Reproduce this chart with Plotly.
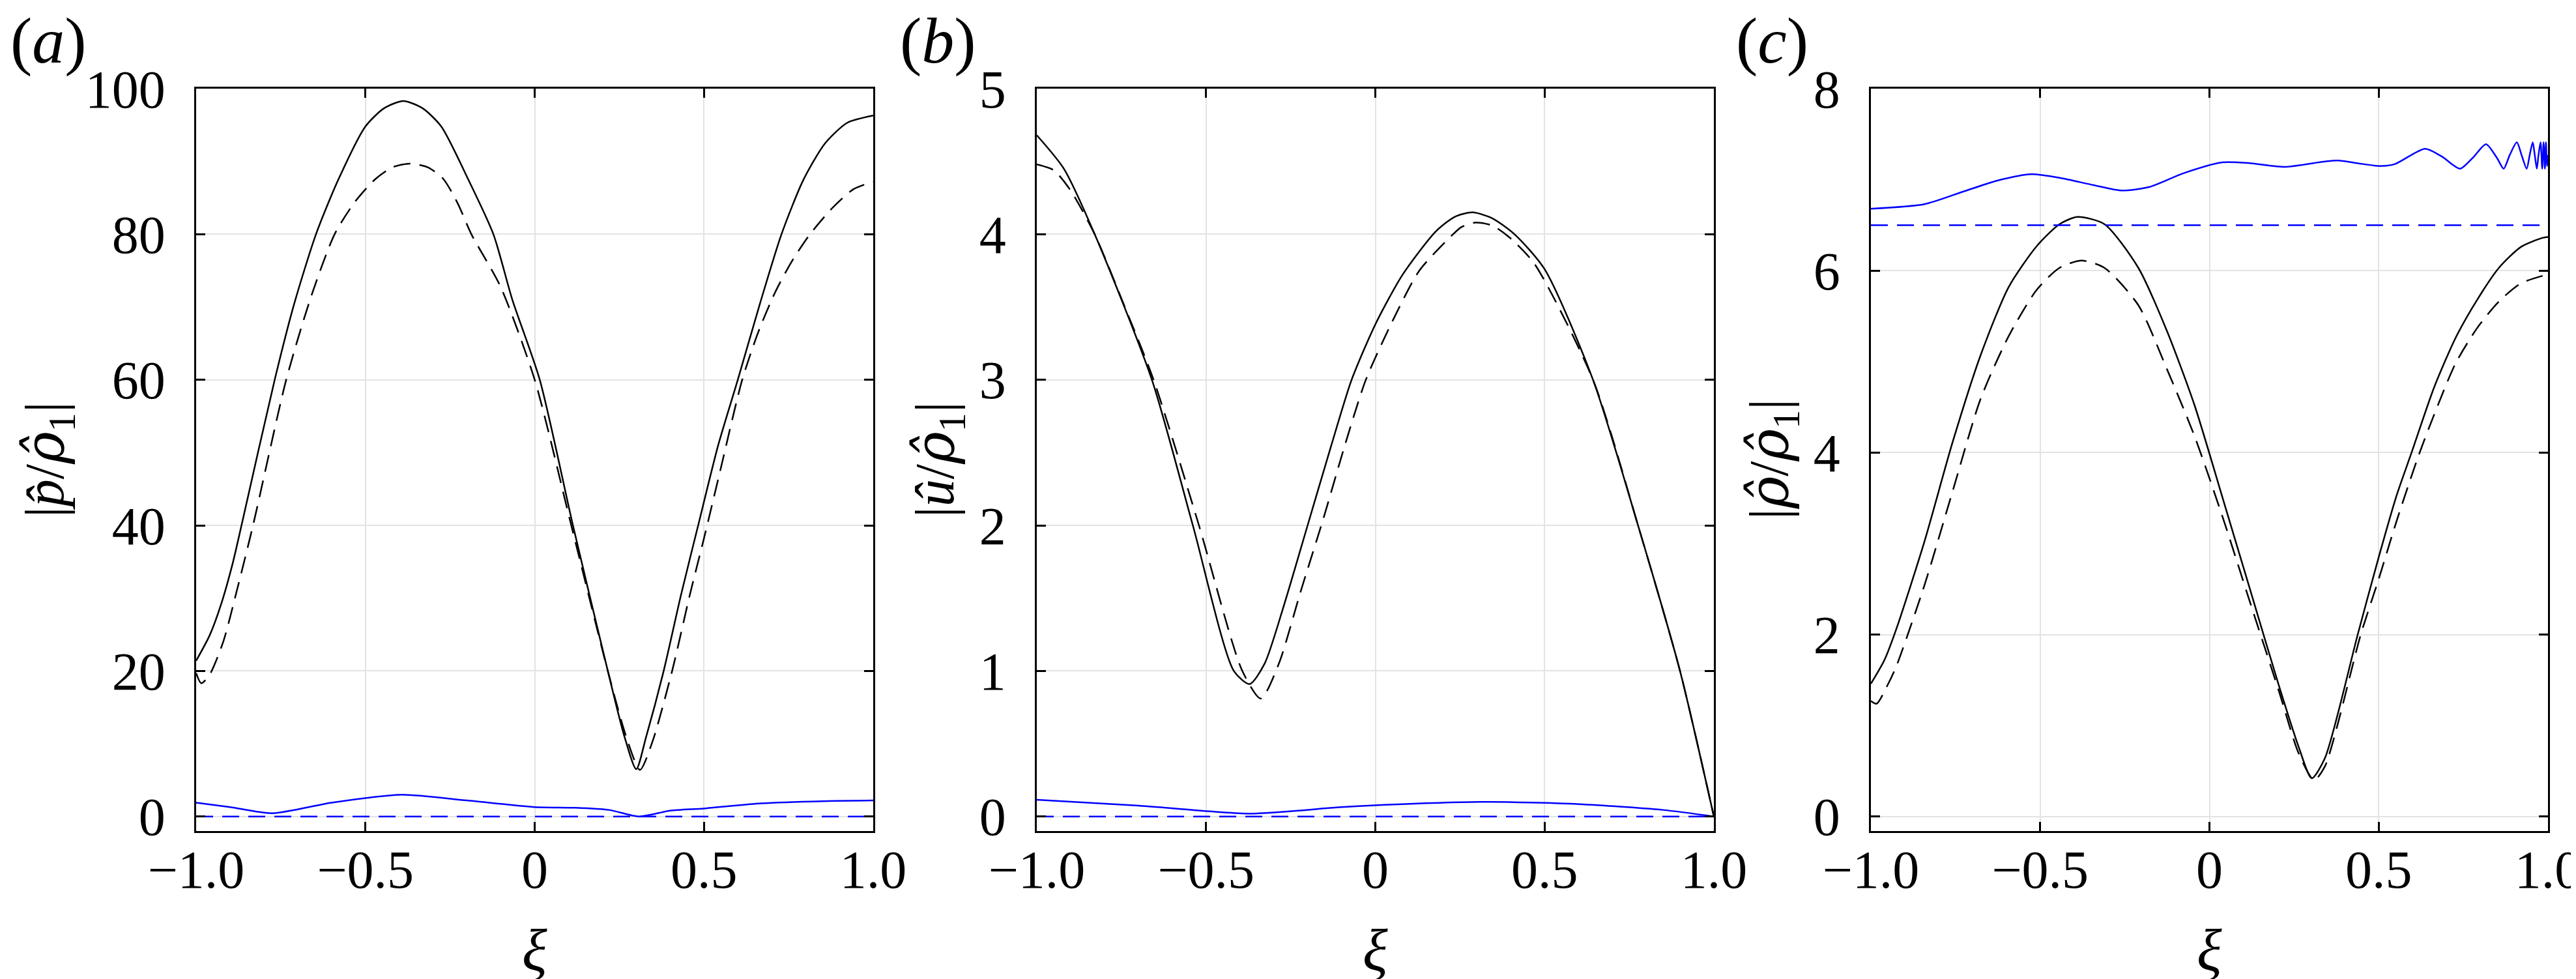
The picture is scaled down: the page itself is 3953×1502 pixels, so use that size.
import plotly.graph_objects as go

W, H = 3953, 1502

# panel (a): |p/rho1|
a_x_solid = [-1.0, -0.96, -0.926, -0.892, -0.866, -0.768, -0.71, -0.646, -0.58, -0.5, -0.445,
             -0.388, -0.331, -0.276, -0.196, -0.122, -0.066, 0.015, 0.113, 0.216, 0.265, 0.300,
             0.329, 0.381, 0.432, 0.484, 0.542, 0.600, 0.665, 0.729, 0.794, 0.858, 0.923, 1.0]
a_y_solid = [21.4, 24.9, 29.2, 34.8, 40.0, 60.0, 70.5, 80.0, 87.5, 94.8, 97.3,
             98.3, 97.3, 94.8, 87.5, 80.0, 71.0, 60.0, 40.0, 20.0, 11.0, 6.5,
             10.9, 20.0, 30.4, 40.2, 51.0, 60.0, 70.4, 80.0, 87.5, 92.5, 95.3, 96.3]
a_x_dash = [-1.0, -0.985, -0.96, -0.92, -0.88, -0.832, -0.734, -0.66, -0.591, -0.53, -0.47,
            -0.42, -0.368, -0.316, -0.27, -0.228, -0.187, -0.101, 0.0, 0.108, 0.216, 0.27,
            0.311, 0.348, 0.406, 0.458, 0.5, 0.548, 0.613, 0.66, 0.71, 0.76, 0.81, 0.877,
            0.942, 1.0]
a_y_dash = [19.7, 18.3, 19.5, 24.0, 31.0, 40.0, 60.0, 71.5, 80.0, 84.5, 87.6,
            89.2, 89.7, 89.2, 87.6, 84.3, 80.0, 72.8, 60.0, 40.0, 20.0, 11.0,
            6.4, 10.3, 20.0, 30.4, 38.2, 47.5, 60.0, 66.5, 72.0, 76.3, 79.8, 83.5,
            86.2, 87.2]
a_x_blue = [-1.0, -0.9, -0.775, -0.6, -0.393, -0.2, 0.0, 0.12, 0.22, 0.308, 0.4, 0.5, 0.67, 0.85, 1.0]
a_y_blue = [1.9, 1.3, 0.45, 1.9, 3.0, 2.2, 1.3, 1.2, 0.9, 0.0, 0.8, 1.1, 1.8, 2.1, 2.2]
a_blue_dash = 0.0

# panel (b): |u/rho1|
b_x_solid = [-1.0, -0.92, -0.829, -0.66, -0.539, -0.418, -0.371, -0.327, -0.27, -0.2, -0.13,
             -0.07, 0.0, 0.08, 0.179, 0.235, 0.287, 0.345, 0.411, 0.5, 0.643, 0.776, 0.9, 1.0]
b_y_solid = [4.68, 4.45, 4.0, 3.0, 2.0, 1.0, 0.91, 1.05, 1.45, 2.0, 2.55,
             3.0, 3.38, 3.72, 4.02, 4.12, 4.15, 4.11, 4.0, 3.76, 3.0, 2.0, 1.0, 0.0]
b_x_dash = [-1.0, -0.95, -0.9, -0.829, -0.74, -0.655, -0.521, -0.393, -0.338, -0.285, -0.22,
            -0.153, -0.09, -0.028, 0.05, 0.13, 0.221, 0.255, 0.295, 0.345, 0.395, 0.469,
            0.643, 0.776, 0.9, 1.0]
b_y_dash = [4.48, 4.44, 4.30, 4.0, 3.5, 3.0, 2.0, 1.0, 0.81, 1.05, 1.55,
            2.05, 2.55, 3.0, 3.4, 3.75, 3.98, 4.05, 4.08, 4.06, 3.98, 3.80,
            3.0, 2.0, 1.0, 0.0]
b_x_blue = [-1.0, -0.7, -0.371, -0.1, 0.0, 0.31, 0.6, 0.85, 1.0]
b_y_blue = [0.115, 0.075, 0.02, 0.065, 0.077, 0.10, 0.085, 0.045, 0.0]
b_blue_dash = 0.0

# panel (c): |rho/rho1|
c_x_solid = [-1.0, -0.96, -0.925, -0.842, -0.759, -0.676, -0.593, -0.51, -0.443, -0.39, -0.31,
             -0.21, -0.127, -0.044, 0.039, 0.122, 0.205, 0.264, 0.302, 0.341, 0.438, 0.5,
             0.553, 0.598, 0.663, 0.727, 0.791, 0.855, 0.920, 0.984, 1.0]
c_y_solid = [1.46, 1.72, 2.06, 3.02, 4.11, 5.07, 5.82, 6.27, 6.51, 6.59, 6.51,
             6.03, 5.35, 4.52, 3.50, 2.47, 1.44, 0.76, 0.42, 0.64, 2.0, 2.85,
             3.53, 4.01, 4.71, 5.26, 5.68, 6.03, 6.26, 6.36, 6.37]
c_x_dash = [-1.0, -0.983, -0.95, -0.925, -0.842, -0.759, -0.676, -0.593, -0.51, -0.443, -0.377,
            -0.31, -0.21, -0.127, -0.044, 0.039, 0.122, 0.205, 0.264, 0.309, 0.341, 0.447,
            0.5, 0.553, 0.618, 0.663, 0.727, 0.791, 0.855, 0.920, 1.0]
c_y_dash = [1.27, 1.24, 1.45, 1.65, 2.54, 3.57, 4.59, 5.28, 5.79, 6.03, 6.11,
            6.03, 5.62, 4.93, 4.18, 3.29, 2.33, 1.38, 0.69, 0.40, 0.55, 2.0,
            2.61, 3.25, 3.97, 4.41, 4.98, 5.37, 5.66, 5.86, 5.96]
c_x_blue = [-1.0, -0.842, -0.726, -0.626, -0.526, -0.443, -0.343, -0.26, -0.177, -0.077, 0.039,
            0.122, 0.222, 0.342, 0.380, 0.438, 0.502, 0.547, 0.637, 0.688, 0.740, 0.778,
            0.817, 0.849, 0.869, 0.887, 0.908, 0.922, 0.937, 0.946, 0.955, 0.961, 0.967,
            0.972, 0.978, 0.983, 0.987, 0.991, 0.994, 0.997, 1.0]
c_y_blue = [6.68, 6.73, 6.87, 6.99, 7.06, 7.02, 6.94, 6.88, 6.92, 7.07, 7.19,
            7.18, 7.14, 7.20, 7.21, 7.18, 7.15, 7.17, 7.34, 7.25, 7.12, 7.24,
            7.39, 7.24, 7.12, 7.27, 7.41, 7.27, 7.12, 7.27, 7.41, 7.27, 7.12,
            7.27, 7.41, 7.12, 7.41, 7.12, 7.41, 7.15, 7.27]
c_blue_dash = 6.50

x_ticks = [-1.0, -0.5, 0.0, 0.5, 1.0]
x_tick_text = ["\u22121.0", "\u22120.5", "0", "0.5", "1.0"]

RHO_HAT = '<span style="font-family:\'DejaVu Serif\'"><i>\u03c1\u0302</i></span>'

panels = [
    dict(name="a", solid=(a_x_solid, a_y_solid), dash=(a_x_dash, a_y_dash),
         blue=(a_x_blue, a_y_blue), bdash=a_blue_dash, yr=[-2, 100], yt=[0, 20, 40, 60, 80, 100],
         title="|<i>p\u0302</i>/" + RHO_HAT + "<sub>1</sub>|", px=(293, 1332), ytx=66),
    dict(name="b", solid=(b_x_solid, b_y_solid), dash=(b_x_dash, b_y_dash),
         blue=(b_x_blue, b_y_blue), bdash=b_blue_dash, yr=[-0.1, 5], yt=[0, 1, 2, 3, 4, 5],
         title="|<i>\u00fb</i>/" + RHO_HAT + "<sub>1</sub>|", px=(1583, 2622), ytx=1432),
    dict(name="c", solid=(c_x_solid, c_y_solid), dash=(c_x_dash, c_y_dash),
         blue=(c_x_blue, c_y_blue), bdash=c_blue_dash, yr=[-0.16, 8], yt=[0, 2, 4, 6, 8],
         title="|" + RHO_HAT + "/" + RHO_HAT + "<sub>1</sub>|", px=(2863, 3902), ytx=2712),
]

FONT = "Liberation Serif, Times New Roman, serif"
top_px, bot_px = 128, 1267

fig = go.Figure()
annotations = []
for i, p in enumerate(panels):
    k = "" if i == 0 else str(i + 1)
    xa, ya = "x" + k, "y" + k
    line_kw = dict(shape="spline", smoothing=0.7)
    fig.add_trace(go.Scatter(x=p["solid"][0], y=p["solid"][1], mode="lines", xaxis=xa, yaxis=ya,
                             line=dict(color="black", width=2.5, **line_kw)))
    fig.add_trace(go.Scatter(x=p["dash"][0], y=p["dash"][1], mode="lines", xaxis=xa, yaxis=ya,
                             line=dict(color="black", width=2.5, dash="26px,14px", **line_kw)))
    fig.add_trace(go.Scatter(x=p["blue"][0], y=p["blue"][1], mode="lines", xaxis=xa, yaxis=ya,
                             line=dict(color="#0000ff", width=2.5, **line_kw)))
    fig.add_trace(go.Scatter(x=[-1.0, 1.0], y=[p["bdash"], p["bdash"]], mode="lines", xaxis=xa, yaxis=ya,
                             line=dict(color="#0000ff", width=2.5, dash="26px,14px")))

    common = dict(showline=True, linecolor="black", linewidth=2.5, mirror="ticks", ticks="inside",
                  ticklen=14, tickwidth=2.5, tickcolor="black", showgrid=True, gridcolor="#e3e3e3",
                  gridwidth=2, zeroline=False, automargin=False, ticklabeloverflow="allow",
                  tickfont=dict(family=FONT, size=82, color="black"))
    fig.layout["xaxis" + k] = dict(common, domain=[p["px"][0] / W, p["px"][1] / W], range=[-1, 1],
                                   anchor=ya, tickvals=x_ticks, ticktext=x_tick_text,
                                   ticklabelstandoff=-14)
    fig.layout["yaxis" + k] = dict(common, domain=[1 - bot_px / H, 1 - top_px / H], range=p["yr"],
                                   anchor=xa, tickvals=p["yt"], ticklabelstandoff=28)

    cx = (p["px"][0] + p["px"][1]) / 2
    annotations.append(dict(text="<i>\u03be</i>", x=cx / W, y=1 - 1450 / H, xref="paper", yref="paper",
                            showarrow=False, xanchor="center", yanchor="middle",
                            font=dict(family=FONT, size=90, color="black")))
    annotations.append(dict(text=p["title"], x=p["ytx"] / W, y=1 - 697 / H, xref="paper", yref="paper",
                            showarrow=False, textangle=-90, xanchor="center", yanchor="middle",
                            font=dict(family=FONT, size=84, color="black")))
    lab_x = [66, 1431, 2711][i]
    annotations.append(dict(text="(<i>" + p["name"] + "</i>)", x=lab_x / W, y=1 - 54 / H,
                            xref="paper", yref="paper", showarrow=False,
                            xanchor="center", yanchor="middle",
                            font=dict(family=FONT, size=100, color="black")))

fig.update_layout(width=W, height=H, margin=dict(l=0, r=0, t=0, b=0), showlegend=False,
                  plot_bgcolor="white", paper_bgcolor="white", annotations=annotations)

fig.write_html("out.html")
